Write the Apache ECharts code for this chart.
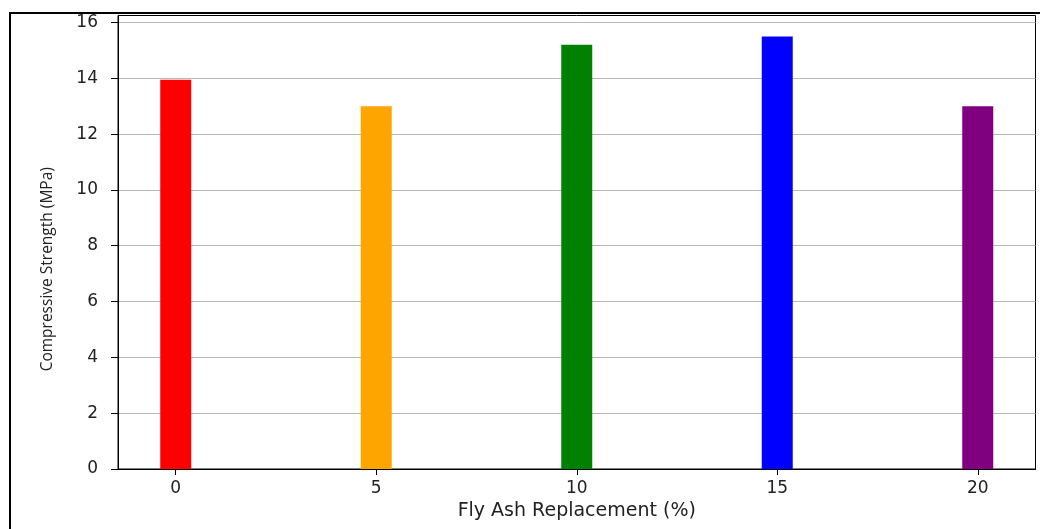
<!DOCTYPE html>
<html>
<head>
<meta charset="utf-8">
<script src="https://cdn.jsdelivr.net/npm/echarts@6/dist/echarts.min.js"></script>
<style>
html,body{margin:0;padding:0;background:#fff;}
#chart{width:1040px;height:529px;position:absolute;left:0;top:0;}
#frame{position:absolute;left:9px;top:12px;width:1040px;height:529px;border-top:2.5px solid #000;border-left:2.5px solid #000;pointer-events:none;}
</style>
</head>
<body>
<div id="chart"></div>
<div id="frame"></div>
<script>
const categories = [0, 5, 10, 15, 20];
const strengths = [13.95, 13.0, 15.2, 15.5, 13.0];
const barColors = ['#ff0000', '#ffa500', '#008000', '#0000ff', '#800080'];
const xTickValues = [0, 5, 10, 15, 20];
const yTickValues = [0, 2, 4, 6, 8, 10, 12, 14, 16];

const chart = echarts.init(document.getElementById('chart'), null, {renderer: 'canvas'});
const tickFont = {fontFamily: 'DejaVu Sans', fontSize: 17, color: '#222'};
chart.setOption({
  animation: false,
  backgroundColor: '#fff',
  grid: {left: 118, right: 4.5, top: 15.5, bottom: 60, show: true, borderColor: '#000', borderWidth: 1, backgroundColor: 'transparent'},
  xAxis: {
    type: 'value', min: -1.44, max: 21.44,
    name: 'Fly Ash Replacement (%)', nameLocation: 'middle', nameGap: 33,
    nameTextStyle: {fontFamily: 'DejaVu Sans', fontSize: 19, color: '#222'},
    axisLine: {show: true, onZero: false, lineStyle: {color: '#000', width: 1}},
    axisTick: {show: true, length: 6, lineStyle: {color: '#000'}, customValues: xTickValues},
    axisLabel: Object.assign({margin: 11, customValues: xTickValues}, tickFont),
    splitLine: {show: false}
  },
  yAxis: {
    type: 'value', min: 0, max: 16.25,
    name: 'Compressive Strength (MPa)', nameLocation: 'middle', nameGap: 62, nameRotate: 90,
    nameTextStyle: {fontFamily: '"Open Sans", "Noto Sans", sans-serif', fontSize: 15.5, color: '#222', padding: [0, 54, 0, 0]},
    axisLine: {show: true, onZero: false, lineStyle: {color: '#000', width: 1}},
    axisTick: {show: true, length: 7, lineStyle: {color: '#000'}, customValues: yTickValues},
    axisLabel: Object.assign({margin: 20, customValues: yTickValues}, tickFont),
    splitLine: {show: true, lineStyle: {color: '#b8b8b8', width: 1}}
  },
  series: [{
    type: 'bar',
    barWidth: 31,
    data: categories.map((c, i) => ({value: [c, strengths[i]], itemStyle: {color: barColors[i]}}))
  }]
});
</script>
</body>
</html>
